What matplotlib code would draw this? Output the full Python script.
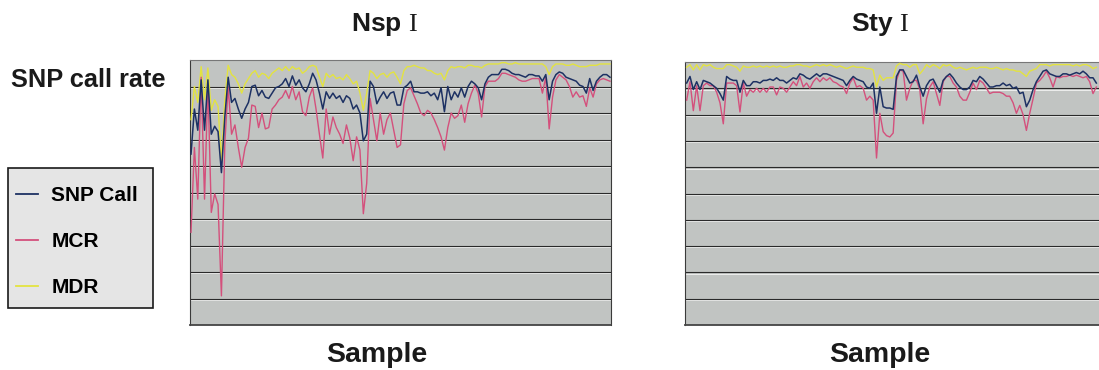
import matplotlib.pyplot as plt
import matplotlib.lines as mlines
import matplotlib.patches as mpatches
import matplotlib.transforms as mtransforms
import numpy as np

# ---- data (call rate, %) ----
nsp_snp_call = [
    92.9, 96.3, 94.7, 98.5, 94.7, 98.5, 94.4, 95.0, 94.6, 91.5,
    95.7, 98.7, 96.8, 97.1, 96.3, 95.6, 96.3, 96.8, 98.0, 98.1,
    97.3, 97.7, 97.2, 97.1, 97.5, 97.9, 98.0, 98.2, 98.6, 98.0,
    98.8, 98.1, 98.5, 97.9, 97.6, 98.2, 99.0, 98.5, 97.5, 96.3,
    97.6, 97.1, 97.5, 97.1, 97.3, 96.8, 97.3, 97.1, 96.3, 96.6,
    96.0, 93.9, 94.4, 98.4, 98.0, 96.7, 97.2, 97.6, 97.1, 97.5,
    97.6, 96.6, 96.6, 97.9, 98.1,
    98.4, 97.6, 97.6, 97.5, 97.5, 97.6, 97.3, 97.5, 97.0, 97.9,
    96.1, 98.0, 97.0, 97.6, 97.2, 97.9, 97.2, 98.0, 98.4, 98.2,
    97.9, 97.0, 98.2, 98.7, 98.9, 98.9, 98.9, 99.3, 99.3, 99.2,
    99.0, 98.9, 98.9, 98.8, 98.7, 98.9, 98.9, 98.8, 98.8, 98.4,
    98.9, 97.0, 98.4, 98.9, 99.1, 99.0, 98.7, 98.6, 98.5, 98.4,
    98.1, 98.0, 97.5, 98.6, 97.7, 98.4, 98.7, 98.9, 98.9, 98.7,
]
nsp_mcr = [
    87.0, 93.4, 89.5, 98.7, 89.5, 98.2, 88.5, 89.9, 89.1, 82.2,
    93.7, 98.0, 94.4, 95.1, 93.4, 91.9, 93.4, 94.1, 96.6, 96.5,
    94.9, 96.0, 94.8, 94.9, 96.3, 96.6, 97.0, 97.2, 97.7, 97.1,
    98.0, 97.0, 97.6, 96.1, 95.8, 97.2, 97.9, 96.3, 94.4, 92.6,
    96.3, 94.4, 95.7, 94.9, 94.4, 93.7, 95.1, 94.1, 92.4, 94.2,
    93.2, 88.4, 90.7, 97.1, 95.5, 93.9, 96.0, 94.4, 95.5, 96.0,
    94.7, 93.4, 93.6, 96.7, 97.7,
    97.9, 97.3, 96.7, 96.0, 95.8, 96.2, 96.0, 95.5, 94.9, 94.2,
    93.2, 94.9, 96.0, 95.6, 95.8, 96.6, 95.3, 96.7, 97.5, 98.1,
    97.5, 95.7, 98.0, 98.4, 98.4, 98.4, 98.6, 99.0, 99.0, 98.9,
    98.8, 98.7, 98.5, 98.4, 98.4, 98.5, 98.6, 98.6, 98.6, 97.5,
    98.7, 94.8, 97.2, 98.5, 98.9, 98.7, 98.5, 98.0, 97.2, 97.6,
    97.2, 97.3, 96.5, 97.9, 97.2, 98.2, 98.5, 98.6, 98.5, 98.4,
]
nsp_mdr = [
    95.5, 98.0, 96.8, 99.5, 97.0, 99.4, 96.2, 97.0, 96.5, 92.4,
    97.0, 99.6, 98.9, 98.7, 98.2, 97.5, 98.2, 98.6, 99.0, 99.2,
    98.7, 99.0, 98.9, 98.6, 99.0, 99.2, 99.4, 99.2, 99.5, 99.2,
    99.5, 99.3, 99.4, 99.0, 99.2, 99.5, 99.6, 99.5, 98.7, 98.0,
    99.0, 98.7, 98.9, 98.6, 98.7, 98.5, 98.9, 98.6, 98.2, 98.4,
    97.5, 96.2, 97.5, 99.2, 99.0, 98.6, 98.9, 99.0, 98.7, 99.0,
    99.1, 98.7, 98.2, 99.2, 99.5,
    99.5, 99.6, 99.5, 99.4, 99.4, 99.2, 99.2, 99.0, 98.9, 99.0,
    98.5, 99.2, 99.5, 99.4, 99.5, 99.5, 99.4, 99.6, 99.6, 99.5,
    99.5, 99.4, 99.6, 99.7, 99.7, 99.7, 99.7, 99.8, 99.8, 99.7,
    99.7, 99.8, 99.7, 99.7, 99.7, 99.7, 99.7, 99.7, 99.7, 99.7,
    99.5, 98.9, 99.5, 99.7, 99.7, 99.7, 99.6, 99.6, 99.7, 99.6,
    99.5, 99.5, 99.5, 99.6, 99.6, 99.6, 99.7, 99.7, 99.7, 99.7,
]

sty_snp_call = [
    98.4, 98.9, 97.9, 98.5, 97.9, 98.6, 98.5, 98.4, 98.2, 98.0,
    97.6, 97.1, 98.9, 98.7, 98.6, 98.6, 97.7, 98.6, 98.2, 98.2,
    98.5, 98.5, 98.4, 98.6, 98.6, 98.7, 98.6, 98.8, 98.6, 98.6,
    98.4, 98.6, 98.8, 98.7, 99.1, 99.0, 98.8, 98.7, 98.9, 99.1,
    98.9, 99.1, 99.1, 99.0, 98.9, 98.8, 98.7, 98.6, 98.2, 98.6,
    98.9, 98.7, 98.6, 98.5, 98.1, 98.0, 98.4, 96.1, 98.1, 96.6,
    96.5, 96.5, 96.4, 98.9,
    99.4, 99.4, 98.9, 98.4, 98.5, 99.0, 98.1, 97.4, 98.2, 98.6,
    98.7, 98.2, 97.7, 98.6, 98.9, 99.1, 98.8, 98.4, 98.1, 97.9,
    97.9, 98.1, 98.6, 98.5, 98.9, 98.7, 98.4, 98.1, 98.1, 98.2,
    98.2, 98.4, 98.2, 98.3, 98.0, 98.1, 97.6, 97.7, 96.6, 97.1,
    97.9, 98.5, 98.9, 99.3, 99.4, 99.1, 99.0, 98.9, 98.9, 99.1,
    99.1, 99.0, 99.1, 99.2, 99.1, 99.3, 99.1, 98.8, 98.8, 98.4,
]
sty_mcr = [
    97.1, 98.5, 96.3, 98.2, 96.3, 98.2, 98.4, 98.2, 98.2, 97.7,
    96.9, 95.3, 98.4, 98.4, 98.4, 98.2, 96.2, 98.4, 97.4, 97.9,
    97.7, 98.0, 97.7, 98.0, 97.7, 98.1, 98.1, 97.5, 98.1, 98.0,
    97.7, 98.1, 98.5, 98.2, 98.9, 98.1, 98.4, 98.0, 98.5, 98.8,
    98.5, 98.8, 98.6, 98.8, 98.5, 98.4, 98.2, 98.1, 97.6, 98.4,
    98.8, 98.1, 98.2, 98.0, 97.1, 97.4, 97.1, 92.7, 96.1, 94.7,
    94.4, 94.3, 94.6, 98.6,
    99.4, 99.3, 97.1, 98.0, 98.6, 98.6, 97.9, 95.3, 97.2, 98.1,
    98.5, 97.6, 96.7, 98.5, 98.9, 98.9, 98.4, 98.1, 97.4, 97.1,
    97.1, 97.7, 98.4, 97.9, 98.6, 98.4, 98.0, 97.6, 97.7, 97.7,
    97.7, 97.6, 97.4, 97.4, 96.9, 96.1, 96.7, 96.0, 94.8, 96.1,
    97.2, 98.4, 98.6, 98.9, 99.3, 98.8, 98.1, 98.9, 98.8, 98.9,
    98.9, 99.0, 98.9, 99.0, 98.9, 98.8, 98.9, 98.5, 97.6, 98.1,
]
sty_mdr = [
    99.6, 99.8, 99.4, 99.8, 99.4, 99.8, 99.7, 99.8, 99.6, 99.5,
    99.5, 99.5, 99.8, 99.8, 99.7, 99.6, 99.3, 99.7, 99.6, 99.6,
    99.7, 99.6, 99.7, 99.6, 99.7, 99.6, 99.7, 99.6, 99.7, 99.6,
    99.6, 99.7, 99.7, 99.8, 99.8, 99.7, 99.7, 99.6, 99.7, 99.8,
    99.7, 99.8, 99.7, 99.8, 99.7, 99.6, 99.7, 99.6, 99.5, 99.6,
    99.7, 99.6, 99.6, 99.6, 99.5, 99.5, 99.4, 98.1, 99.0, 98.6,
    98.8, 98.8, 98.8, 99.7,
    99.9, 99.8, 99.8, 99.6, 99.8, 99.8, 99.1, 99.4, 99.8, 99.6,
    99.8, 99.7, 99.5, 99.8, 99.7, 99.8, 99.6, 99.5, 99.6, 99.5,
    99.4, 99.5, 99.6, 99.5, 99.6, 99.6, 99.6, 99.5, 99.5, 99.6,
    99.5, 99.4, 99.5, 99.4, 99.4, 99.3, 99.3, 99.1, 98.9, 99.3,
    99.4, 99.5, 99.8, 99.8, 99.8, 99.7, 99.8, 99.8, 99.8, 99.8,
    99.8, 99.8, 99.7, 99.8, 99.7, 99.8, 99.8, 99.7, 99.5, 99.6,
]

panel_titles = [r"Nsp $\mathrm{I}$", r"Sty $\mathrm{I}$"]
panel_data = [
    (nsp_snp_call, nsp_mcr, nsp_mdr),
    (sty_snp_call, sty_mcr, sty_mdr),
]
series_names = ["SNP Call", "MCR", "MDR"]
series_colors = ["#1d3163", "#d4507c", "#e3e340"]

FONT = ["Liberation Sans", "DejaVu Sans"]
plt.rcParams["font.family"] = FONT
plt.rcParams["mathtext.fontset"] = "custom"
plt.rcParams["mathtext.rm"] = "Liberation Serif"

W, H = 1099, 370
fig = plt.figure(figsize=(W / 100, H / 100), dpi=100)
fig.patch.set_facecolor("white")

ax_rects = [
    (190 / W, 45 / H, 421 / W, 265 / H),
    (685 / W, 45 / H, 422 / W, 263 / H),
]
xlims = [(-0.3, 124.3), (-0.5, 126.2)]
title_x = [384, 880]
sample_x = [377, 880]

for i, rect in enumerate(ax_rects):
    snp, mcr, mdr = panel_data[i]
    ax = fig.add_axes(rect)
    ax.set_facecolor("#c1c4c2")
    x = np.arange(len(snp))
    ax.plot(x, mdr, color=series_colors[2], lw=1.0, zorder=3)
    ax.plot(x, mcr, color=series_colors[1], lw=1.0, zorder=4)
    ax.plot(x, snp, color=series_colors[0], lw=1.1, zorder=5)
    ax.set_ylim(80, 100)
    ax.set_xlim(*xlims[i])
    gridvals = np.arange(82, 100, 2)
    ax.set_yticks(gridvals)
    ax.set_xticks([])
    ax.tick_params(axis="y", length=0, labelleft=False)
    ax.grid(axis="y", color="#2a2a2a", lw=0.8, zorder=1)
    # light highlight under each grid line
    shift = mtransforms.ScaledTranslation(0, -1.3 / 100, fig.dpi_scale_trans)
    ax.hlines(gridvals, 0, 1, transform=ax.get_yaxis_transform() + shift,
              color="white", lw=0.7, alpha=0.7, zorder=1)
    for side in ["left", "top", "right"]:
        ax.spines[side].set_color("#3a3a3a")
        ax.spines[side].set_linewidth(0.8)
    ax.spines["top"].set_color("#777777")
    ax.spines["bottom"].set_color("#444444")
    ax.spines["bottom"].set_linestyle((0, (1, 1)))
    ax.spines["bottom"].set_linewidth(1.3)
    fig.text(title_x[i] / W, 1 - 25 / H, panel_titles[i], ha="center",
             va="center", fontsize=19, fontweight="bold", color="#1a1a1a")
    fig.text(sample_x[i] / W, 1 - 355 / H, "Sample", ha="center",
             va="center", fontsize=20.5, fontweight="bold", color="#1a1a1a")

fig.text(11 / W, 1 - 80 / H, "SNP call rate", ha="left", va="center",
         fontsize=18.3, fontweight="bold", color="#1a1a1a")

# legend box
box = mpatches.Rectangle((7.5 / W, 1 - 307.5 / H), 145 / W, 140 / H,
                         transform=fig.transFigure, facecolor="#e5e5e5",
                         edgecolor="#1a1a1a", lw=1.2, zorder=0)
fig.patches.append(box)
handles = [mlines.Line2D([], [], color=c, lw=1.3) for c in series_colors]
fig.legend(handles, series_names, loc="upper left",
           bbox_to_anchor=(16 / W, 1 - 186 / H), frameon=False,
           handlelength=1.05, handletextpad=0.65, labelspacing=1.3,
           borderpad=0, borderaxespad=0,
           prop={"family": FONT, "weight": "bold", "size": 15})

fig.savefig("out.png", dpi=100)
